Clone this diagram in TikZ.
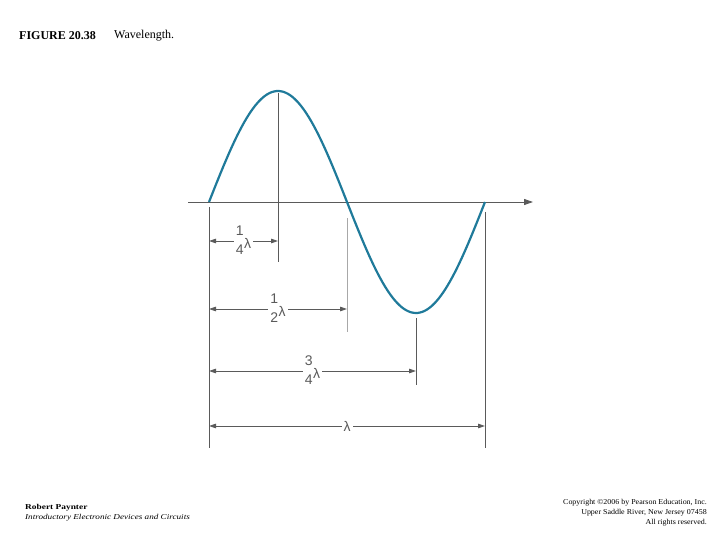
\documentclass[tikz,border=0pt]{standalone}
\usepackage{fontspec}
\setmainfont{Liberation Serif}
\newfontfamily\labfont{Liberation Sans}
\usetikzlibrary{arrows.meta}
\definecolor{wavecol}{HTML}{1F7A9A}
\definecolor{linecol}{HTML}{5A5A5A}
\definecolor{lightcol}{HTML}{A8A8A8}
\newcommand{\fracl}[2]{\begin{tabular}{@{}c@{}}#1\\#2\end{tabular}\hspace{0.5pt}\raisebox{-3.5pt}{λ}}
\begin{document}
\begin{tikzpicture}[x=1pt,y=-1pt,
  wave/.style={draw=wavecol,line width=2.2pt},
  vline/.style={draw=linecol,line width=0.9pt},
  lvline/.style={draw=lightcol,line width=0.9pt},
  dim/.style={draw=linecol,line width=0.8pt,{Triangle[length=7pt,width=4.5pt]}-{Triangle[length=7pt,width=4.5pt]}},
  lab/.style={fill=white,inner sep=2pt,font=\labfont\fontsize{14}{19}\selectfont,text=linecol},
  txt/.style={inner sep=0pt,anchor=west}]
\useasboundingbox (0,0) rectangle (720,540);
% axis
\coordinate (ax0) at (188,202);
\coordinate (ax1) at (533,202);
\draw[draw=linecol,line width=0.9pt,-{Triangle[length=9pt,width=6pt]}] (ax0) -- (ax1);
% wave
\draw[wave] plot[domain=0:360,samples=120] ({209+\x*0.766667},{202-111*sin(\x)});
% vertical lines
\coordinate (v0a) at (209,207); \coordinate (v0b) at (209,448);
\coordinate (v1a) at (278,93);  \coordinate (v1b) at (278,262);
\coordinate (v2a) at (347,218); \coordinate (v2b) at (347,332);
\coordinate (v3a) at (416,318); \coordinate (v3b) at (416,385);
\coordinate (v4a) at (485,212); \coordinate (v4b) at (485,448);
\draw[vline] (v0a) -- (v0b);
\draw[vline] (v1a) -- (v1b);
\draw[lvline] (v2a) -- (v2b);
\draw[vline] (v3a) -- (v3b);
\draw[vline] (v4a) -- (v4b);
% dimensions
\coordinate (d1a) at (209,241); \coordinate (d1b) at (278,241);
\coordinate (d2a) at (209,309); \coordinate (d2b) at (347,309);
\coordinate (d3a) at (209,371); \coordinate (d3b) at (416,371);
\coordinate (d4a) at (209,426); \coordinate (d4b) at (485,426);
\draw[dim] (d1a) -- node[lab] (l1) {\fracl{1}{4}} (d1b);
\draw[dim] (d2a) -- node[lab] (l2) {\fracl{1}{2}} (d2b);
\draw[dim] (d3a) -- node[lab] (l3) {\fracl{3}{4}} (d3b);
\draw[dim] (d4a) -- node[lab] (l4) {λ} (d4b);
% texts
\node[txt,font=\fontsize{12}{14}\selectfont\bfseries] (t1) at (19,36) {FIGURE 20.38};
\node[txt,font=\fontsize{12}{14}\selectfont] (t2) at (114,36) {Wavelength.};
\node[txt,font=\fontsize{7.5}{8}\selectfont\bfseries] (f1) at (25,508) {\scalebox{1.25}[1]{Robert Paynter}};
\node[txt,font=\fontsize{7.5}{8}\selectfont\itshape] (f2) at (25,518) {\scalebox{1.22}[1]{Introductory Electronic Devices and Circuits}};
\node[inner sep=0pt,anchor=east,font=\fontsize{7.5}{8}\selectfont] (c1) at (707,503) {\scalebox{1.06}[1]{Copyright ©2006 by Pearson Education, Inc.}};
\node[inner sep=0pt,anchor=east,font=\fontsize{7.5}{8}\selectfont] (c2) at (707,513) {\scalebox{1.06}[1]{Upper Saddle River, New Jersey 07458}};
\node[inner sep=0pt,anchor=east,font=\fontsize{7.5}{8}\selectfont] (c3) at (707,523) {\scalebox{1.06}[1]{All rights reserved.}};
\end{tikzpicture}
\end{document}
